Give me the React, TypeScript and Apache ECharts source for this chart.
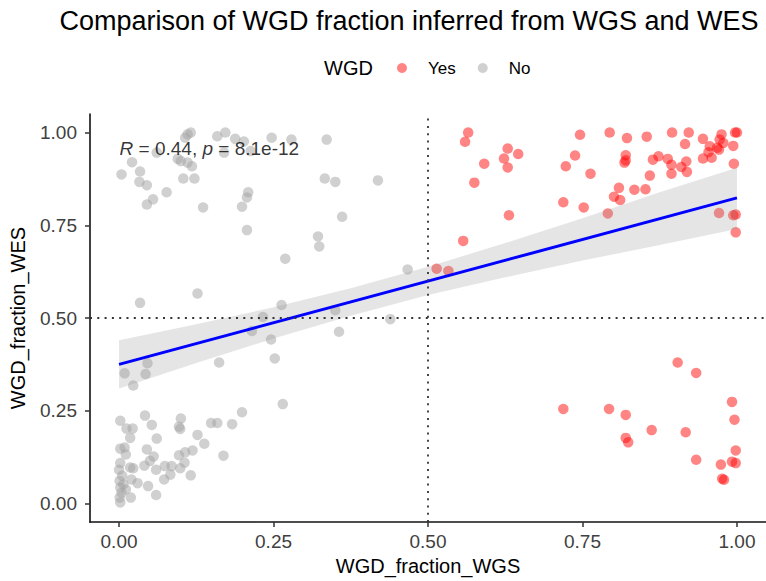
import React, { useEffect, useRef } from "react";
import * as echarts from "echarts";

// WGD = Yes (red)
const yesWGS = [
  0.565, 0.56, 0.591, 0.575, 0.557, 0.629, 0.623, 0.646, 0.629, 0.631,
  0.746, 0.738, 0.723, 0.763, 0.719, 0.752, 0.794, 0.822, 0.82, 0.818,
  0.82, 0.854, 0.809, 0.801, 0.811, 0.834, 0.852, 0.859, 0.864, 0.873,
  0.888, 0.894, 0.894, 0.91, 0.918, 0.919, 0.895, 0.922, 0.916, 0.945,
  0.945, 0.959, 0.956, 0.954, 0.968, 0.978, 0.972, 0.975, 0.971, 0.997,
  1.0, 0.994, 0.995, 0.791, 0.971, 0.994, 0.998, 0.998, 0.514, 0.533,
  0.719, 0.793, 0.82, 0.82, 0.824, 0.862, 0.904, 0.934, 0.917, 0.934,
  0.992, 0.996, 0.998, 0.974, 0.992, 0.998, 0.976, 0.979,
];
const yesWES = [
  1.0, 0.975, 0.916, 0.865, 0.708, 0.957, 0.93, 0.942, 0.906, 0.777,
  0.994, 0.938, 0.909, 0.889, 0.812, 0.798, 1.0, 0.985, 0.939, 0.919,
  0.925, 0.989, 0.851, 0.827, 0.818, 0.846, 0.847, 0.884, 0.927, 0.936,
  0.929, 0.913, 0.889, 0.907, 0.922, 0.894, 1.0, 1.0, 0.969, 0.983,
  0.93, 0.932, 0.963, 0.947, 0.959, 0.972, 0.981, 0.995, 0.954, 1.0,
  1.0, 0.964, 0.916, 0.782, 0.783, 0.777, 0.779, 0.731, 0.633, 0.627,
  0.255, 0.255, 0.239, 0.177, 0.165, 0.198, 0.38, 0.352, 0.192, 0.118,
  0.274, 0.226, 0.143, 0.105, 0.113, 0.109, 0.067, 0.064,
];

// WGD = No (grey)
const noWGS = [
  0.111, 0.116, 0.107, 0.159, 0.172, 0.188, 0.202, 0.213, 0.247, 0.17,
  0.061, 0.095, 0.1, 0.111, 0.118, 0.021, 0.034, 0.004, 0.033, 0.045,
  0.104, 0.122, 0.077, 0.055, 0.045, 0.136, 0.209, 0.207, 0.199, 0.207,
  0.279, 0.336, 0.333, 0.35, 0.419, 0.361, 0.322, 0.324, 0.269, 0.034,
  0.127, 0.263, 0.233, 0.215, 0.246, 0.252, 0.162, 0.046, 0.009, 0.043,
  0.023, 0.467, 0.35, 0.439, 0.356, 0.265, 0.199, 0.002, 0.042, 0.053,
  0.1, 0.097, 0.099, 0.012, 0.022, 0.018, 0.061, 0.127, 0.138, 0.149,
  0.159, 0.183, 0.169, 0.002, 0.009, 0.011, 0.045, 0.056, 0.05, 0.041,
  0.06, 0.074, 0.085, 0.097, 0.107, 0.119, 0.106, 0.099, 0.116, 0.083,
  0.073, 0.002, 0.018, 0.023, 0.03, 0.047, 0.06, 0.019, 0.02, 0.001,
  0.007, 0.002, 0.004, 0.001, 0.002, 0.005, 0.0, 0.011,
];
const noWES = [
  0.995, 1.0, 0.986, 0.99, 1.0, 0.983, 0.976, 0.95, 0.986, 0.946,
  0.946, 0.929, 0.923, 0.919, 0.909, 0.92, 0.895, 0.887, 0.867, 0.858,
  0.876, 0.876, 0.839, 0.82, 0.806, 0.798, 0.839, 0.825, 0.8, 0.737,
  0.981, 0.981, 0.876, 0.867, 0.871, 0.773, 0.72, 0.693, 0.66, 0.541,
  0.566, 0.535, 0.503, 0.465, 0.442, 0.391, 0.38, 0.378, 0.351, 0.349,
  0.318, 0.631, 0.521, 0.497, 0.463, 0.268, 0.246, 0.223, 0.237, 0.212,
  0.229, 0.207, 0.201, 0.202, 0.202, 0.177, 0.175, 0.185, 0.161, 0.217,
  0.217, 0.214, 0.129, 0.148, 0.151, 0.132, 0.146, 0.127, 0.115, 0.102,
  0.091, 0.101, 0.101, 0.13, 0.138, 0.143, 0.11, 0.095, 0.076, 0.078,
  0.065, 0.109, 0.097, 0.095, 0.055, 0.047, 0.023, 0.016, 0.065, 0.061,
  0.052, 0.043, 0.029, 0.016, 0.003, 0.075, 0.091, 0.038,
];

// Linear fit and its confidence band
const fitX = [0, 1];
const fitY = [0.375, 0.824];
const bandX = [0, 0.125, 0.25, 0.375, 0.5, 0.625, 0.75, 0.875, 1];
const bandLow = [0.31, 0.379, 0.445, 0.506, 0.562, 0.61, 0.655, 0.697, 0.74];
const bandHigh = [0.44, 0.483, 0.529, 0.58, 0.638, 0.702, 0.769, 0.839, 0.905];

const xTicks = [0, 0.25, 0.5, 0.75, 1];
const yTicks = [0, 0.25, 0.5, 0.75, 1];
const cutoff = 0.5;
const corPos = [0, 0.957];

const FONT = "'Liberation Sans', Arial, Helvetica, sans-serif";

export default function App() {
  const ref = useRef<HTMLDivElement>(null);
  useEffect(() => {
    document.body.style.margin = "0";
    const chart = echarts.init(ref.current!, undefined, { renderer: "svg" });
    const fmt = (v: number) => v.toFixed(2);
    const axisCommon = {
      type: "value" as const,
      nameLocation: "middle" as const,
      nameTextStyle: { fontSize: 20, color: "#000", fontFamily: FONT },
      axisLine: { show: true, onZero: false, lineStyle: { color: "#111", width: 1.6 } },
      splitLine: { show: false },
    };
    chart.setOption({
      animation: false,
      textStyle: { fontFamily: FONT },
      grid: { left: 90, right: 0, top: 114, bottom: 56, containLabel: false },
      xAxis: {
        ...axisCommon,
        min: -0.047,
        max: 1.047,
        name: "WGD_fraction_WGS",
        nameGap: 32,
        axisTick: { show: true, length: 5, customValues: xTicks, lineStyle: { color: "#333", width: 1.5 } },
        axisLabel: { customValues: xTicks, formatter: fmt, fontSize: 19, color: "#404040", margin: 10, fontFamily: FONT },
      },
      yAxis: {
        ...axisCommon,
        min: -0.05,
        max: 1.05,
        name: "WGD_fraction_WES",
        nameGap: 62,
        axisTick: { show: true, length: 5, customValues: yTicks, lineStyle: { color: "#333", width: 1.5 } },
        axisLabel: { customValues: yTicks, formatter: fmt, fontSize: 19, color: "#404040", margin: 13, fontFamily: FONT },
      },
      legend: {
        data: ["Yes", "No"],
        left: 397,
        top: 58,
        padding: 0,
        itemWidth: 10,
        itemHeight: 10,
        itemGap: 22,
        icon: "circle",
        textStyle: { fontSize: 17, color: "#000", padding: [0, 0, 0, 16], lineHeight: 20, fontFamily: FONT },
      },
      graphic: [
        {
          type: "text",
          x: 409,
          y: 21,
          style: {
            text: "Comparison of WGD fraction inferred from WGS and WES",
            fontSize: 27,
            fill: "#000",
            align: "center",
            verticalAlign: "middle",
            fontFamily: FONT,
          },
        },
        {
          type: "text",
          x: 324,
          y: 68,
          style: { text: "WGD", fontSize: 20, fill: "#000", verticalAlign: "middle", fontFamily: FONT },
        },
      ],
      series: [
        {
          name: "No",
          type: "scatter",
          symbolSize: 10.5,
          z: 2,
          itemStyle: { color: "rgba(165,165,165,0.65)" },
          data: noWGS.map((x, i) => [x, noWES[i]]),
        },
        {
          name: "Yes",
          type: "scatter",
          symbolSize: 10.5,
          z: 2,
          itemStyle: { color: "rgba(255,0,0,0.6)" },
          data: yesWGS.map((x, i) => [x, yesWES[i]]),
        },
        {
          name: "band",
          type: "custom",
          z: 3,
          silent: true,
          data: [[0, 0]],
          renderItem: (params: any, api: any) => {
            const pts: number[][] = [];
            bandX.forEach((x, i) => pts.push(api.coord([x, bandHigh[i]])));
            for (let i = bandX.length - 1; i >= 0; i--) pts.push(api.coord([bandX[i], bandLow[i]]));
            return {
              type: "polygon",
              shape: { points: pts },
              style: { fill: "rgba(153,153,153,0.25)", stroke: "none" },
            };
          },
        },
        {
          name: "fit",
          type: "line",
          z: 4,
          symbol: "none",
          silent: true,
          lineStyle: { color: "#0000ff", width: 3 },
          data: fitX.map((x, i) => [x, fitY[i]]),
        },
        {
          name: "cutoffs",
          type: "line",
          z: 5,
          data: [],
          markLine: {
            silent: true,
            symbol: "none",
            label: { show: false },
            lineStyle: { type: [2, 5.3], color: "#333", width: 1.8 },
            data: [{ xAxis: cutoff }, { yAxis: cutoff }],
          },
        },
        {
          name: "cor",
          type: "scatter",
          z: 6,
          symbolSize: 1,
          silent: true,
          itemStyle: { color: "transparent" },
          data: [corPos],
          label: {
            show: true,
            position: "right",
            distance: 0,
            formatter: "{i|R} = 0.44, {i|p} = 8.1e-12",
            fontSize: 19,
            color: "#000",
            fontFamily: FONT,
            rich: { i: { fontStyle: "italic", fontSize: 19, color: "#000", fontFamily: FONT } },
          },
        },
      ],
    });
    return () => chart.dispose();
  }, []);
  return <div ref={ref} style={{ width: 766, height: 581 }} />;
}
